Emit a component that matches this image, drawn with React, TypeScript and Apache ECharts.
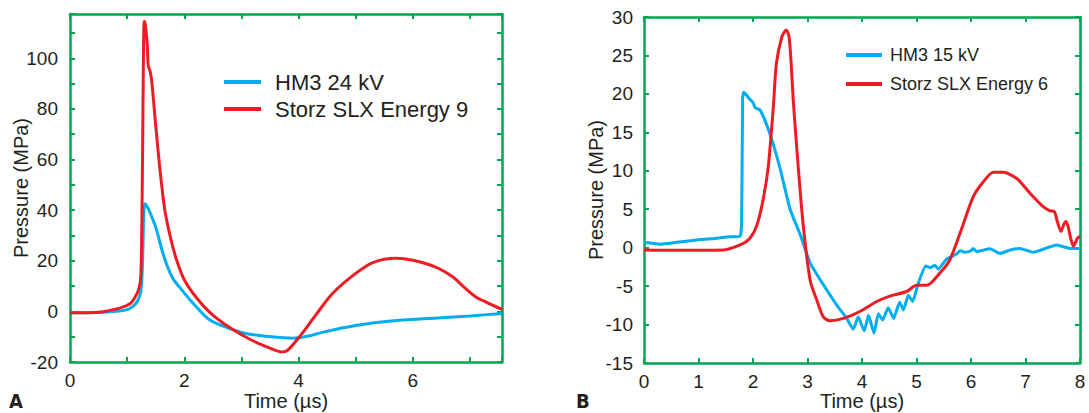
import React, { useEffect, useRef } from "react";
import * as echarts from "echarts";

const FONT = "'Liberation Sans', Arial, sans-serif";
const TEXT = "#231f20";
const GREEN = "#00a651";
const BLUE = "#00aeef";
const RED = "#ed1c24";

// Panel A
const seriesA1Name = "HM3 24 kV";
const seriesA2Name = "Storz SLX Energy 9";
const hm3_24kV: [number, number][] = [
  [0, -0.5], [0.5, -0.4], [0.8, 0], [1.0, 0.7], [1.1, 2], [1.18, 4], [1.24, 8], [1.27, 20], [1.29, 38],
  [1.31, 42.5], [1.36, 41], [1.42, 38], [1.51, 32.5], [1.6, 25], [1.7, 18], [1.8, 13], [1.92, 9.5],
  [2.15, 3.3], [2.44, -3.3], [2.85, -7.2], [3.1, -8.8], [3.43, -9.8], [3.9, -10.6], [4.2, -9.6],
  [4.43, -8.2], [5.0, -5.6], [5.57, -3.9], [6.43, -2.6], [7.0, -1.8], [7.56, -0.8],
];
const storz_E9: [number, number][] = [
  [0, -0.5], [0.5, -0.3], [0.87, 1.3], [1.05, 3], [1.13, 5.3], [1.2, 8.5], [1.24, 14], [1.265, 50],
  [1.285, 100], [1.3, 114.5], [1.32, 113], [1.35, 106], [1.37, 97], [1.4, 95], [1.43, 91], [1.49, 76],
  [1.57, 57], [1.66, 40], [1.76, 29], [1.87, 20], [2.0, 12.5], [2.21, 5.5], [2.5, -1.5], [2.85, -7.2],
  [3.19, -11.5], [3.5, -14.5], [3.7, -16], [3.8, -15.5], [4.02, -9.9], [4.3, -1.5], [4.59, 7], [5.0, 15],
  [5.3, 19.3], [5.7, 21], [6.0, 20.2], [6.4, 17.5], [6.7, 13.6], [6.9, 9.5], [7.11, 5.6], [7.3, 3.5], [7.56, 0.8],
];
const xTicksA = { min: 0, max: 7.56, interval: 1, labelEvery: 2 };
const yTicksA = { min: -20, max: 117.5, interval: 10, labelEvery: 20 };

// Panel B
const seriesB1Name = "HM3 15 kV";
const seriesB2Name = "Storz SLX Energy 6";
const hm3_15kV: [number, number][] = [
  [0, 0.7], [0.3, 0.45], [0.6, 0.7], [1.03, 1.05], [1.3, 1.2], [1.52, 1.4], [1.76, 1.5], [1.79, 3],
  [1.81, 19.5], [1.83, 20.2], [1.94, 19.3], [2.0, 18.9], [2.04, 18.2], [2.13, 17.9], [2.25, 16],
  [2.37, 13.5], [2.5, 10.2], [2.68, 5], [2.86, 1.8], [3.05, -2], [3.29, -4.8], [3.54, -7.5], [3.72, -9.2],
  [3.84, -10.6], [3.93, -9], [4.04, -10.8], [4.12, -8.8], [4.22, -11.1], [4.3, -8.6], [4.38, -9.4],
  [4.48, -7.8], [4.58, -9.2], [4.69, -7.1], [4.76, -8.1], [4.85, -6.2], [4.93, -7], [5.03, -4.7],
  [5.17, -2.4], [5.25, -2.6], [5.34, -2.3], [5.4, -2.8], [5.55, -1.5], [5.74, -0.8], [5.8, -0.4],
  [5.89, -0.6], [6.0, -0.4], [6.04, -0.1], [6.1, -0.5], [6.35, -0.15], [6.53, -0.75], [6.72, -0.3],
  [6.9, -0.1], [7.14, -0.6], [7.57, 0.35], [7.82, -0.1], [8.0, -0.1],
];
const storz_E6: [number, number][] = [
  [0, -0.3], [0.5, -0.35], [1.46, -0.3], [1.76, 0.35], [1.94, 1.2], [2.07, 2.9], [2.19, 6.4], [2.28, 10.5],
  [2.37, 18], [2.43, 24], [2.53, 27.4], [2.61, 28.3], [2.66, 27.5], [2.7, 24], [2.74, 19], [2.83, 10.5],
  [2.92, 3], [3.05, -4.3], [3.17, -6.8], [3.29, -9], [3.41, -9.5], [3.66, -9.2], [3.96, -8.3], [4.27, -7],
  [4.51, -6.3], [4.82, -5.7], [5.0, -4.9], [5.19, -4.9], [5.43, -3.3], [5.61, -1.6], [5.8, 1.9], [6.04, 6.6],
  [6.23, 8.6], [6.41, 9.8], [6.59, 9.8], [6.84, 9], [7.08, 7.1], [7.33, 5.3], [7.45, 4.8], [7.53, 4.7],
  [7.58, 3.5], [7.65, 2.1], [7.7, 3], [7.74, 3.4], [7.78, 2.8], [7.83, 1.2], [7.88, 0.2], [7.95, 1.2], [8.0, 1.5],
];
const xTicksB = { min: 0, max: 8, interval: 1, labelEvery: 1 };
const yTicksB = { min: -15, max: 30, interval: 5, labelEvery: 5 };

const xTitle = "Time (\u00b5s)";
const yTitle = "Pressure (MPa)";
const panelLabels = ["A", "B"];

function everyFmt(step: number) {
  return (v: number) => {
    const r = Math.round(v);
    if (Math.abs(v - r) > 1e-6) return "";
    return r % step === 0 ? String(r) : "";
  };
}

function makeAxes(
  kind: "x" | "y",
  gridIndex: number,
  t: { min: number; max: number; interval: number; labelEvery: number },
  nameGap: number,
  labelMargin: number,
  fontSize: number
) {
  const line = { show: true, onZero: false, lineStyle: { color: GREEN, width: 2.5 } };
  const tick = { show: true, inside: true, length: 5, lineStyle: { color: GREEN, width: 2 } };
  const base = {
    type: "value",
    gridIndex,
    min: t.min,
    max: t.max,
    interval: t.interval,
    axisLine: line,
    axisTick: tick,
    splitLine: { show: false },
  };
  const main: any = {
    ...base,
    position: kind === "x" ? "bottom" : "left",
    axisLabel: {
      show: true,
      fontSize,
      fontFamily: FONT,
      color: TEXT,
      margin: labelMargin,
      formatter: everyFmt(t.labelEvery),
      showMaxLabel: true,
    },
    name: kind === "x" ? xTitle : yTitle,
    nameLocation: "middle",
    nameGap,
    nameMoveOverlap: false,
    nameTextStyle: { fontSize: 20, lineHeight: 20, fontFamily: FONT, color: TEXT },
  };
  const mirror: any = {
    ...base,
    position: kind === "x" ? "top" : "right",
    axisLabel: { show: false },
  };
  return [main, mirror];
}

export default function App() {
  const ref = useRef<HTMLDivElement>(null);
  useEffect(() => {
    if (!ref.current) return;
    const chart = echarts.init(ref.current, null, { renderer: "svg" });
    const [xA, xAtop] = makeAxes("x", 0, xTicksA, 29, 9, 19);
    const [xB, xBtop] = makeAxes("x", 1, xTicksB, 28, 9, 19);
    const [yA, yAr] = makeAxes("y", 0, yTicksA, 39, 12, 19);
    const [yB, yBr] = makeAxes("y", 1, yTicksB, 38, 11, 19);
    const lineSeries = (name: string, data: [number, number][], color: string, gi: number, smooth: number) => ({
      type: "line",
      name,
      data,
      xAxisIndex: gi * 2,
      yAxisIndex: gi * 2,
      showSymbol: false,
      symbol: "none",
      smooth,
      color,
      lineStyle: { color, width: 3 },
      clip: false,
    });
    const panelFont = "'DejaVu Sans Condensed', 'Liberation Sans', sans-serif";
    chart.setOption({
      animation: false,
      backgroundColor: "#ffffff",
      grid: [
        { left: 70, top: 14, width: 432, height: 348, outerBoundsMode: "none", containLabel: false },
        { left: 644, top: 17, width: 436, height: 346, outerBoundsMode: "none", containLabel: false },
      ],
      xAxis: [xA, xAtop, xB, xBtop],
      yAxis: [yA, yAr, yB, yBr],
      legend: [
        {
          data: [seriesA1Name, seriesA2Name],
          orient: "vertical",
          left: 219,
          top: 66,
          itemWidth: 37,
          itemHeight: 4,
          itemGap: 5,
          icon: "rect",
          selectedMode: false,
          textStyle: { fontSize: 22, fontFamily: FONT, color: TEXT, padding: [0, 0, 0, 9] },
        },
        {
          data: [seriesB1Name, seriesB2Name],
          orient: "vertical",
          left: 841,
          top: 41,
          itemWidth: 36,
          itemHeight: 4,
          itemGap: 11,
          icon: "rect",
          selectedMode: false,
          textStyle: { fontSize: 18, fontFamily: FONT, color: TEXT, padding: [0, 0, 0, 3] },
        },
      ],
      graphic: [
        {
          type: "text",
          left: 9,
          top: 391,
          style: { text: panelLabels[0], fontSize: 20, lineHeight: 20, fontWeight: "bold", fontFamily: panelFont, fill: TEXT },
        },
        {
          type: "text",
          left: 576,
          top: 391,
          style: { text: panelLabels[1], fontSize: 20, lineHeight: 20, fontWeight: "bold", fontFamily: panelFont, fill: TEXT },
        },
      ],
      series: [
        lineSeries(seriesA1Name, hm3_24kV, BLUE, 0, 0.3),
        lineSeries(seriesA2Name, storz_E9, RED, 0, 0.3),
        lineSeries(seriesB1Name, hm3_15kV, BLUE, 1, 0.15),
        lineSeries(seriesB2Name, storz_E6, RED, 1, 0.25),
      ],
    });
    return () => chart.dispose();
  }, []);
  return <div ref={ref} style={{ position: "fixed", left: 0, top: 0, width: 1089, height: 413 }} />;
}
